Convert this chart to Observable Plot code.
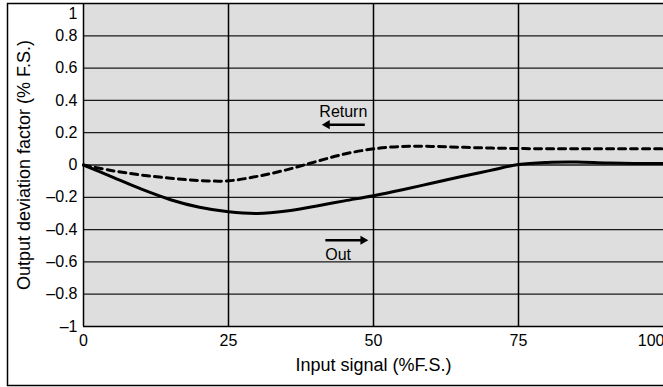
<!DOCTYPE html>
<html>
<head>
<meta charset="utf-8">
<script src="https://cdn.jsdelivr.net/npm/d3@7"></script>
<script src="https://cdn.jsdelivr.net/npm/@observablehq/plot@0.6"></script>
<style>
  html, body { margin: 0; padding: 0; background: #fff; }
  #chart svg { display: block; overflow: visible; }
</style>
</head>
<body>
<div id="chart"></div>
<script>
// ---- data ----
const inputSignal = [0, 5, 10, 15, 20, 25, 30, 35, 40, 45, 50, 55, 60, 65, 70, 75, 80, 85, 90, 95, 100];
const outValues    = [0, -0.075, -0.15, -0.215, -0.262, -0.29, -0.30, -0.285, -0.255, -0.222, -0.19, -0.153, -0.113, -0.073, -0.035, 0.003, 0.016, 0.018, 0.013, 0.01, 0.01];
const returnValues = [0, -0.035, -0.062, -0.082, -0.096, -0.098, -0.07, -0.03, 0.02, 0.068, 0.1, 0.115, 0.115, 0.11, 0.105, 0.102, 0.1, 0.1, 0.1, 0.1, 0.1];
const yTicks = [-1, -0.8, -0.6, -0.4, -0.2, 0, 0.2, 0.4, 0.6, 0.8];
const yTopTick = [1];
const xTicks = [0, 25, 50, 75];
const xLastTick = [100];
const gridX = [25, 50, 75];
const yLabel = "Output deviation factor (% F.S.)";
const xLabel = "Input signal (%F.S.)";
const annotations = [
  {label: "Return", x: 44.8, y: 0.33, x1: 48.5, x2: 42, ay: 0.25},
  {label: "Out", x: 43.9, y: -0.555, x1: 41.7, x2: 48.2, ay: -0.466}
];

const outData = inputSignal.map((x, i) => ({x, y: outValues[i]}));
const retData = inputSignal.map((x, i) => ({x, y: returnValues[i]}));
const fmt = d => d === 0 ? "0" : (d < 0 ? "\u2013" : "") + String(+Math.abs(d).toFixed(1));

const font = "Liberation Sans, Arial, Helvetica, sans-serif";

const chart = Plot.plot({
  width: 663,
  height: 387,
  marginLeft: 83,
  marginRight: 0,
  marginTop: 3,
  marginBottom: 61,
  style: {fontFamily: font, fontSize: "16px", background: "#fff", overflow: "visible"},
  x: {domain: [0, 100]},
  y: {domain: [-1, 1]},
  marks: [
    Plot.frame({fill: "#dedede"}),
    Plot.ruleY(yTicks.filter(d => d > -1 && d < 1), {stroke: "#1a1a1a", strokeWidth: 1.3}),
    Plot.ruleX(gridX, {stroke: "#000", strokeWidth: 1.5}),
    Plot.ruleX([0], {stroke: "#000", strokeWidth: 1.5}),
    Plot.ruleY([-1], {stroke: "#000", strokeWidth: 1.5}),
    Plot.line(retData, {x: "x", y: "y", stroke: "#000", strokeWidth: 3, strokeDasharray: "7,5", curve: "catmull-rom"}),
    Plot.line(outData, {x: "x", y: "y", stroke: "#000", strokeWidth: 3, curve: "catmull-rom"}),
    Plot.text(annotations, {x: "x", y: "y", text: "label", fontSize: 16, fill: "#000"}),
    Plot.link(annotations, {x1: "x1", x2: "x2", y1: "ay", y2: "ay", stroke: "#000", strokeWidth: 2.5}),
    Plot.dot(annotations, {x: "x2", y: "ay", symbol: "triangle", r: 3.4, fill: "#000", stroke: null,
      rotate: d => d.x2 > d.x1 ? 90 : -90}),
    Plot.axisY(yTicks, {tickSize: 0, tickPadding: 6, tickFormat: fmt, fontSize: 16, fill: "#000", label: null}),
    Plot.axisY(yTopTick, {tickSize: 0, tickPadding: 6, tickFormat: fmt, fontSize: 16, fill: "#000", dy: 10, label: null}),
    Plot.axisX(xTicks, {tickSize: 0, tickPadding: 8, tickFormat: d => String(d), fontSize: 16, fill: "#000", label: null}),
    Plot.axisX(xLastTick, {tickSize: 0, tickPadding: 8, tickFormat: d => String(d), fontSize: 16, fill: "#000",
      textAnchor: "end", dx: 1, label: null}),
    Plot.text([yLabel], {frameAnchor: "left", textAnchor: "middle", dx: -59, rotate: -90, fontSize: 18, fill: "#000"}),
    Plot.text([xLabel], {frameAnchor: "bottom", textAnchor: "middle", dy: 44, fontSize: 18, fill: "#000"}),
    Plot.frame({stroke: "#000", strokeWidth: 1.5, fill: "none", insetLeft: -76, insetBottom: -59, insetRight: -20, insetTop: 0})
  ]
});
document.getElementById("chart").appendChild(chart);
</script>
</body>
</html>
